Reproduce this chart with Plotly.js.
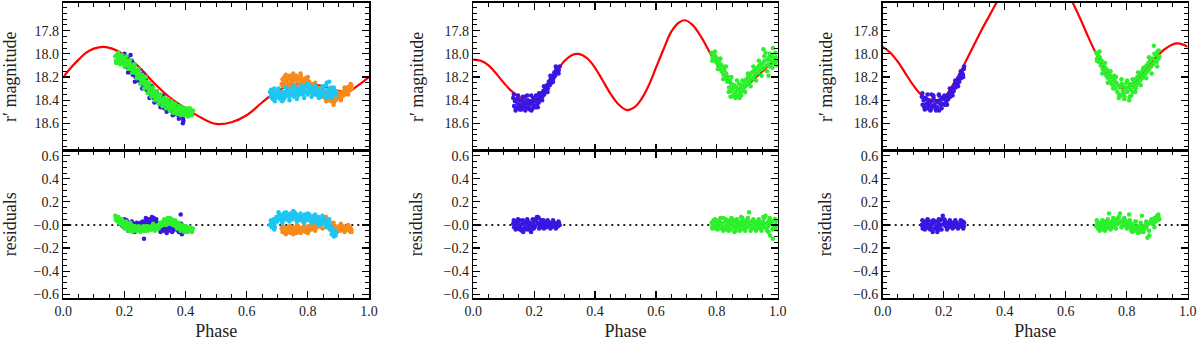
<!DOCTYPE html>
<html>
<head>
<meta charset="utf-8">
<script src="https://cdn.plot.ly/plotly-3.0.1.min.js"></script>
<style>html,body{margin:0;padding:0;background:#fff;}#chart{width:1200px;height:342px;}</style>
</head>
<body>
<div id="chart"></div>
<script>
// ---------------- tick labels ----------------
const phaseTicks = [0, 0.2, 0.4, 0.6, 0.8, 1.0];
const phaseTickText = ['0.0', '0.2', '0.4', '0.6', '0.8', '1.0'];
const magTicks = [17.8, 18.0, 18.2, 18.4, 18.6];
const magTickText = ['17.8', '18.0', '18.2', '18.4', '18.6'];
const resTicks = [-0.6, -0.4, -0.2, 0, 0.2, 0.4, 0.6];
const resTickText = ['\u22120.6', '\u22120.4', '\u22120.2', '\u22120.0', '0.2', '0.4', '0.6'];
const residualZero = 0;

// ---------------- model curves (phase, r' mag) ----------------
const modelLeftPhase = [0, 0.025, 0.05, 0.075, 0.1, 0.13, 0.16, 0.2, 0.25, 0.3, 0.35, 0.4, 0.45, 0.5, 0.55, 0.6, 0.65, 0.7, 0.75, 0.8, 0.85, 0.9, 0.93, 0.96, 1.0];
const modelLeftMag   = [18.20, 18.12, 18.05, 17.99, 17.955, 17.94, 17.955, 18.01, 18.12, 18.26, 18.38, 18.47, 18.55, 18.605, 18.59, 18.53, 18.42, 18.32, 18.27, 18.26, 18.28, 18.32, 18.33, 18.28, 18.20];

const modelMidPhase = [0, 0.025, 0.05, 0.075, 0.1, 0.125, 0.15, 0.175, 0.2, 0.225, 0.25, 0.275, 0.3, 0.325, 0.345, 0.375, 0.4, 0.425, 0.45, 0.475, 0.505, 0.53, 0.55, 0.575, 0.6, 0.625, 0.65, 0.675, 0.695, 0.72, 0.75, 0.775, 0.8, 0.825, 0.85, 0.87, 0.9, 0.925, 0.95, 0.975, 1.0];
const modelMidMag   = [18.05, 18.06, 18.10, 18.17, 18.25, 18.32, 18.37, 18.40, 18.40, 18.35, 18.26, 18.15, 18.06, 18.01, 18.00, 18.04, 18.12, 18.23, 18.34, 18.43, 18.485, 18.46, 18.40, 18.28, 18.12, 17.96, 17.81, 17.73, 17.71, 17.75, 17.86, 17.98, 18.09, 18.19, 18.27, 18.30, 18.27, 18.21, 18.15, 18.09, 18.05];

const modelRightPhase = [0, 0.025, 0.05, 0.075, 0.1, 0.125, 0.15, 0.175, 0.2, 0.225, 0.25, 0.275, 0.3, 0.325, 0.35, 0.375, 0.4, 0.45, 0.5, 0.55, 0.6, 0.625, 0.65, 0.675, 0.7, 0.725, 0.75, 0.775, 0.79, 0.8, 0.825, 0.85, 0.875, 0.9, 0.925, 0.95, 0.965, 0.985, 1.0];
const modelRightMag   = [17.94, 17.99, 18.07, 18.17, 18.27, 18.35, 18.39, 18.40, 18.38, 18.29, 18.18, 18.05, 17.92, 17.79, 17.67, 17.55, 17.45, 17.30, 17.25, 17.30, 17.45, 17.57, 17.71, 17.86, 18.00, 18.12, 18.21, 18.28, 18.30, 18.29, 18.25, 18.17, 18.09, 18.02, 17.96, 17.92, 17.91, 17.92, 17.94];

// ---------------- observations: [phase, r' mag, residual] ----------------
const leftBlue = [[0.190,18.04,0.02],[0.194,18.08,-0.01],[0.198,18.05,0.03],[0.203,18.11,-0.02],[0.207,18.03,0.04],[0.211,18.12,-0.03],[0.215,18.07,0.01],[0.219,18.15,-0.04],[0.223,18.10,0.00],[0.227,18.18,-0.05],[0.231,18.13,0.01],[0.236,18.20,-0.03],[0.240,18.16,0.02],[0.244,18.23,-0.04],[0.248,18.19,-0.01],[0.252,18.22,0.02],[0.256,18.26,-0.03],[0.260,18.21,0.03],[0.264,18.29,-0.12],[0.268,18.25,0.01],[0.272,18.31,0.04],[0.276,18.27,0.02],[0.280,18.33,0.05],[0.284,18.30,0.01],[0.288,18.36,0.04],[0.292,18.32,0.02],[0.296,18.38,0.06],[0.300,18.35,0.03],[0.304,18.40,0.05],[0.308,18.37,0.01],[0.312,18.41,-0.01],[0.316,18.38,-0.04],[0.320,18.43,0.00],[0.324,18.40,-0.03],[0.328,18.45,-0.05],[0.332,18.42,-0.01],[0.336,18.46,-0.04],[0.340,18.43,-0.02],[0.344,18.48,-0.05],[0.348,18.45,-0.01],[0.352,18.49,-0.03],[0.356,18.47,-0.06],[0.360,18.51,-0.02],[0.364,18.48,-0.04],[0.368,18.52,0.00],[0.372,18.49,-0.03],[0.376,18.53,-0.05],[0.380,18.50,-0.02],[0.384,18.54,0.09],[0.388,18.51,-0.08],[0.392,18.56,-0.03],[0.395,18.52,-0.04],[0.391,18.60,-0.01],[0.220,18.01,0.02],[0.260,18.17,-0.02],[0.330,18.47,0.03],
  [0.200,18.00,0.05],[0.212,18.16,-0.05],[0.224,18.06,0.03],[0.234,18.24,-0.06],[0.246,18.14,0.00],[0.258,18.30,0.01],[0.270,18.22,0.06],[0.282,18.38,0.03],[0.290,18.28,0.07],[0.298,18.42,0.04],[0.306,18.33,0.02],[0.318,18.46,-0.06],[0.326,18.36,-0.02],[0.338,18.50,-0.07],[0.346,18.41,-0.03],[0.358,18.53,-0.05],[0.366,18.44,0.02],[0.378,18.56,-0.06],[0.386,18.47,0.01],[0.393,18.58,-0.05]];

const leftGreen = [[0.170,18.02,0.08],[0.172,18.06,0.05],[0.175,18.01,0.07],[0.178,18.05,0.03],[0.181,18.03,0.06],[0.184,18.07,0.02],[0.187,18.02,0.05],[0.190,18.05,0.01],[0.193,18.08,0.04],[0.196,18.04,-0.01],[0.199,18.07,0.02],[0.202,18.05,-0.02],[0.205,18.09,0.01],[0.208,18.06,-0.03],[0.211,18.10,0.00],[0.214,18.08,-0.04],[0.217,18.12,-0.01],[0.220,18.09,-0.03],[0.223,18.13,0.00],[0.226,18.11,-0.05],[0.229,18.15,-0.02],[0.232,18.12,-0.04],[0.235,18.16,-0.01],[0.238,18.14,-0.05],[0.241,18.18,-0.02],[0.244,18.16,-0.04],[0.247,18.20,-0.01],[0.250,18.18,-0.03],[0.253,18.22,-0.05],[0.256,18.20,-0.02],[0.259,18.24,-0.04],[0.262,18.22,-0.01],[0.265,18.26,-0.03],[0.268,18.24,-0.05],[0.271,18.28,-0.02],[0.274,18.26,-0.04],[0.277,18.30,-0.01],[0.280,18.28,-0.03],[0.283,18.32,-0.02],[0.286,18.30,-0.04],[0.289,18.34,-0.01],[0.292,18.32,-0.03],[0.295,18.36,0.00],[0.298,18.34,-0.02],[0.301,18.37,-0.04],[0.304,18.35,-0.01],[0.307,18.39,-0.03],[0.310,18.37,0.00],[0.313,18.40,-0.02],[0.316,18.38,0.01],[0.319,18.41,-0.01],[0.322,18.39,0.02],[0.325,18.42,0.00],[0.328,18.40,0.03],[0.331,18.43,0.01],[0.334,18.41,0.04],[0.337,18.44,0.02],[0.340,18.42,0.05],[0.343,18.45,0.01],[0.346,18.43,0.03],[0.349,18.46,0.06],[0.352,18.44,0.02],[0.355,18.47,0.04],[0.358,18.45,0.00],[0.361,18.48,0.03],[0.364,18.46,0.01],[0.367,18.49,-0.01],[0.370,18.47,0.02],[0.373,18.50,-0.02],[0.376,18.47,0.01],[0.379,18.49,-0.03],[0.382,18.47,0.00],[0.385,18.50,-0.02],[0.388,18.48,-0.04],[0.391,18.51,-0.01],[0.394,18.48,-0.03],[0.397,18.50,-0.05],[0.400,18.48,-0.02],[0.403,18.51,-0.04],[0.406,18.49,-0.06],[0.409,18.52,-0.03],[0.412,18.48,-0.05],[0.415,18.50,-0.02],[0.418,18.49,-0.04],[0.421,18.51,-0.06],[0.424,18.49,-0.03],
  [0.173,18.08,0.04],[0.180,17.99,0.07],[0.186,18.09,0.01],[0.192,18.01,0.05],[0.200,18.11,-0.03],[0.206,18.02,0.03],[0.213,18.13,-0.05],[0.219,18.05,0.02],[0.226,18.16,-0.06],[0.233,18.09,-0.01],[0.240,18.21,-0.05],[0.246,18.13,-0.02],[0.252,18.26,-0.06],[0.258,18.18,-0.02],[0.264,18.30,-0.05],[0.270,18.20,-0.01],[0.276,18.34,-0.05],[0.282,18.25,-0.02],[0.288,18.37,-0.04],[0.294,18.29,0.01],[0.300,18.40,-0.05],[0.306,18.32,-0.01],[0.312,18.43,-0.03],[0.318,18.35,0.02],[0.324,18.45,0.01],[0.330,18.38,0.05],[0.336,18.47,0.00],[0.342,18.39,0.06],[0.348,18.49,0.01],[0.354,18.41,0.05],[0.360,18.51,0.02],[0.366,18.43,0.04],[0.372,18.52,-0.03],[0.378,18.45,0.02],[0.384,18.53,-0.05],[0.390,18.46,0.00],[0.396,18.53,-0.06],[0.402,18.47,-0.01],[0.408,18.54,-0.05],[0.414,18.47,-0.03],[0.420,18.53,-0.05]];

const leftOrange = [[0.714,18.26,-0.03],[0.717,18.22,-0.06],[0.720,18.25,-0.02],[0.723,18.20,-0.05],[0.726,18.27,-0.07],[0.729,18.23,-0.03],[0.732,18.21,-0.05],[0.735,18.26,-0.02],[0.738,18.22,-0.06],[0.741,18.19,-0.04],[0.744,18.25,-0.07],[0.747,18.21,-0.03],[0.750,18.24,-0.05],[0.753,18.20,-0.02],[0.756,18.27,-0.06],[0.759,18.22,-0.04],[0.762,18.19,-0.07],[0.765,18.24,-0.03],[0.768,18.21,-0.05],[0.771,18.26,-0.02],[0.774,18.22,-0.06],[0.777,18.19,-0.04],[0.780,18.25,-0.03],[0.783,18.22,-0.05],[0.786,18.27,-0.01],[0.789,18.23,-0.04],[0.792,18.21,-0.06],[0.795,18.26,-0.02],[0.798,18.23,-0.04],[0.801,18.28,-0.01],[0.804,18.24,-0.05],[0.807,18.27,-0.03],[0.810,18.30,-0.01],[0.813,18.26,-0.04],[0.816,18.29,-0.02],[0.819,18.32,0.00],[0.822,18.28,-0.03],[0.825,18.31,-0.01],[0.828,18.34,0.01],[0.831,18.29,-0.02],[0.834,18.33,0.00],[0.837,18.30,0.02],[0.840,18.35,-0.01],[0.843,18.31,0.01],[0.846,18.34,0.04],[0.849,18.37,0.02],[0.852,18.32,0.05],[0.855,18.36,0.03],[0.858,18.39,0.06],[0.861,18.34,0.02],[0.864,18.37,0.04],[0.867,18.40,0.00],[0.870,18.35,0.03],[0.873,18.38,-0.01],[0.876,18.41,0.01],[0.879,18.36,-0.02],[0.882,18.39,0.00],[0.885,18.42,-0.03],[0.888,18.37,-0.01],[0.891,18.40,-0.04],[0.894,18.36,-0.02],[0.897,18.38,-0.05],[0.900,18.34,-0.01],[0.903,18.37,-0.03],[0.906,18.35,-0.05],[0.909,18.38,-0.02],[0.912,18.33,-0.04],[0.915,18.36,-0.01],[0.918,18.32,-0.03],[0.921,18.35,-0.05],[0.924,18.31,-0.02],[0.927,18.34,-0.04],[0.930,18.29,-0.01],[0.933,18.32,-0.03],[0.936,18.28,-0.05],[0.939,18.31,-0.02],[0.942,18.27,-0.04],[0.943,18.30,-0.06],
  [0.718,18.28,-0.01],[0.728,18.18,-0.08],[0.740,18.28,-0.01],[0.752,18.17,-0.08],[0.764,18.29,0.00],[0.776,18.17,-0.07],[0.788,18.29,-0.02],[0.800,18.20,-0.07],[0.812,18.33,0.02],[0.824,18.25,-0.05],[0.836,18.36,0.04],[0.848,18.29,-0.03],[0.860,18.41,0.07],[0.872,18.32,-0.04],[0.884,18.44,0.02],[0.896,18.33,-0.06],[0.908,18.40,0.01],[0.920,18.29,-0.06],[0.932,18.35,0.00],[0.940,18.26,-0.06]];

const leftCyan = [[0.676,18.33,0.00],[0.679,18.37,0.04],[0.682,18.35,-0.02],[0.685,18.39,0.02],[0.688,18.33,0.05],[0.691,18.36,0.01],[0.694,18.38,0.04],[0.697,18.34,0.07],[0.700,18.37,0.03],[0.703,18.32,0.06],[0.706,18.36,0.09],[0.709,18.39,0.05],[0.712,18.34,0.08],[0.715,18.37,0.04],[0.718,18.33,0.07],[0.721,18.36,0.10],[0.724,18.38,0.06],[0.727,18.33,0.09],[0.730,18.36,0.05],[0.733,18.31,0.08],[0.736,18.35,0.04],[0.739,18.37,0.07],[0.742,18.32,0.10],[0.745,18.35,0.06],[0.748,18.30,0.09],[0.751,18.34,0.05],[0.754,18.37,0.08],[0.757,18.32,0.11],[0.760,18.35,0.06],[0.763,18.30,0.09],[0.766,18.33,0.05],[0.769,18.36,0.07],[0.772,18.31,0.04],[0.775,18.34,0.08],[0.778,18.29,0.05],[0.781,18.33,0.07],[0.784,18.35,0.03],[0.787,18.30,0.06],[0.790,18.33,0.09],[0.793,18.28,0.05],[0.796,18.32,0.08],[0.799,18.35,0.04],[0.802,18.30,0.06],[0.805,18.33,0.09],[0.808,18.28,0.05],[0.811,18.31,0.07],[0.814,18.34,0.03],[0.817,18.29,0.06],[0.820,18.32,0.08],[0.823,18.35,0.04],[0.826,18.30,0.06],[0.829,18.33,0.02],[0.832,18.36,0.05],[0.835,18.31,0.07],[0.838,18.34,0.03],[0.841,18.37,0.05],[0.844,18.32,0.01],[0.847,18.35,0.04],[0.850,18.30,0.06],[0.853,18.33,0.02],[0.856,18.36,0.04],[0.859,18.27,0.00],[0.862,18.25,0.03],[0.865,18.31,-0.01],[0.868,18.34,0.02],[0.871,18.37,-0.03],[0.874,18.29,-0.01],[0.877,18.33,-0.05],[0.880,18.35,-0.03],[0.883,18.31,-0.07],[0.887,18.34,-0.05],[0.891,18.32,-0.09],[0.718,18.40,0.03],[0.690,18.30,-0.04],
  [0.680,18.31,0.03],[0.692,18.41,-0.02],[0.704,18.30,0.11],[0.716,18.41,0.02],[0.728,18.29,0.11],[0.740,18.40,0.03],[0.752,18.28,0.12],[0.764,18.39,0.03],[0.776,18.27,0.10],[0.788,18.38,0.02],[0.800,18.26,0.10],[0.812,18.37,0.02],[0.824,18.27,0.09],[0.836,18.38,0.00],[0.848,18.28,0.08],[0.860,18.38,-0.02],[0.870,18.24,0.05],[0.878,18.38,-0.08],[0.885,18.29,-0.10],[0.893,18.36,-0.06]];

const midBlue = [[0.131,18.38,0.01],[0.134,18.45,-0.02],[0.137,18.41,0.03],[0.140,18.47,0.00],[0.143,18.39,-0.03],[0.146,18.43,0.02],[0.149,18.46,-0.01],[0.152,18.40,0.04],[0.155,18.44,0.00],[0.158,18.48,-0.03],[0.161,18.41,0.01],[0.164,18.45,-0.06],[0.167,18.42,0.02],[0.170,18.37,-0.02],[0.173,18.46,0.01],[0.176,18.43,-0.04],[0.179,18.40,0.03],[0.182,18.47,-0.01],[0.185,18.44,0.02],[0.188,18.41,-0.05],[0.191,18.49,0.00],[0.194,18.43,-0.03],[0.197,18.38,0.02],[0.200,18.45,0.04],[0.203,18.41,-0.01],[0.206,18.36,0.03],[0.209,18.44,0.07],[0.212,18.39,0.01],[0.215,18.42,0.06],[0.218,18.36,0.00],[0.221,18.39,0.03],[0.224,18.34,-0.02],[0.227,18.37,0.01],[0.230,18.32,0.04],[0.233,18.35,-0.01],[0.236,18.30,0.02],[0.239,18.32,-0.02],[0.242,18.27,0.01],[0.245,18.30,0.03],[0.248,18.24,-0.01],[0.251,18.27,0.02],[0.254,18.22,0.00],[0.257,18.25,-0.02],[0.260,18.19,0.01],[0.263,18.21,-0.01],[0.266,18.16,0.02],[0.269,18.19,0.00],[0.272,18.14,-0.02],[0.275,18.16,0.01],[0.278,18.12,-0.01],[0.281,18.14,0.02],[0.284,18.11,0.00],[0.160,18.46,-0.05],[0.190,18.36,-0.06],[0.212,18.46,0.07],
  [0.133,18.35,0.04],[0.139,18.49,-0.04],[0.147,18.36,0.05],[0.153,18.48,-0.04],[0.163,18.37,0.04],[0.171,18.49,-0.03],[0.177,18.36,0.05],[0.186,18.48,-0.04],[0.195,18.47,0.05],[0.199,18.39,-0.03],[0.205,18.46,0.05],[0.216,18.34,-0.03],[0.226,18.40,0.04],[0.232,18.28,-0.03],[0.244,18.33,0.04],[0.253,18.19,-0.03],[0.262,18.24,0.04],[0.271,18.11,-0.03],[0.280,18.17,0.03]];

const midGreen = [[0.783,17.99,0.02],[0.786,18.03,-0.01],[0.789,18.00,0.04],[0.792,18.05,0.00],[0.795,18.02,-0.03],[0.798,18.07,0.02],[0.801,18.04,-0.02],[0.804,18.09,0.01],[0.807,18.06,0.04],[0.810,18.12,-0.01],[0.813,18.09,0.02],[0.816,18.15,-0.03],[0.819,18.11,0.01],[0.822,18.18,0.06],[0.825,18.14,-0.02],[0.828,18.21,0.03],[0.831,18.17,-0.04],[0.834,18.24,0.00],[0.837,18.20,0.03],[0.840,18.29,-0.02],[0.843,18.23,0.01],[0.846,18.32,-0.04],[0.849,18.26,0.02],[0.852,18.30,0.05],[0.855,18.35,-0.01],[0.858,18.27,0.03],[0.861,18.33,-0.03],[0.864,18.29,0.01],[0.867,18.36,0.04],[0.870,18.31,-0.02],[0.873,18.26,0.02],[0.876,18.34,0.00],[0.879,18.29,-0.04],[0.882,18.32,0.03],[0.885,18.27,-0.01],[0.888,18.30,0.02],[0.891,18.24,-0.03],[0.894,18.28,0.01],[0.897,18.22,0.04],[0.900,18.26,-0.02],[0.903,18.20,0.02],[0.906,18.24,0.11],[0.909,18.18,-0.01],[0.912,18.22,0.03],[0.915,18.16,-0.03],[0.918,18.21,0.01],[0.921,18.15,-0.02],[0.924,18.19,0.02],[0.927,18.13,-0.04],[0.930,18.17,0.00],[0.933,18.12,0.03],[0.936,18.16,-0.02],[0.939,18.10,0.01],[0.942,18.14,-0.03],[0.945,18.09,0.02],[0.948,18.13,-0.01],[0.951,18.08,0.03],[0.954,18.12,-0.02],[0.957,18.06,0.01],[0.960,17.99,0.08],[0.963,18.10,-0.03],[0.966,18.05,0.02],[0.969,18.09,-0.01],[0.972,18.03,0.04],[0.975,18.11,-0.09],[0.978,18.06,0.01],[0.981,18.02,0.03],[0.984,17.95,-0.12],[0.987,18.08,-0.02],[0.990,18.04,0.05],[0.993,18.07,0.00],[0.996,18.03,0.03],[0.999,18.06,-0.01],[0.845,18.37,0.05],[0.862,18.38,-0.05],[0.880,18.36,0.07],[0.970,18.19,-0.06],
  [0.785,18.06,-0.03],[0.794,17.98,0.05],[0.803,18.13,-0.04],[0.812,18.04,0.06],[0.821,18.22,-0.05],[0.830,18.11,0.05],[0.839,18.33,-0.05],[0.848,18.20,0.06],[0.857,18.37,-0.06],[0.866,18.23,0.05],[0.875,18.38,-0.05],[0.884,18.23,0.06],[0.893,18.33,-0.05],[0.902,18.17,0.06],[0.911,18.28,-0.05],[0.920,18.11,0.05],[0.929,18.23,-0.05],[0.938,18.06,0.05],[0.947,18.19,-0.05],[0.956,18.02,0.06],[0.965,18.15,-0.05],[0.974,18.00,0.06],[0.983,18.12,-0.04],[0.992,17.99,0.05],[0.998,18.10,-0.04],[0.953,17.96,0.07]];

const rightBlue = [[0.128,18.37,0.00],[0.131,18.44,-0.03],[0.134,18.40,0.02],[0.137,18.46,-0.01],[0.140,18.38,0.03],[0.143,18.43,-0.02],[0.146,18.47,0.01],[0.149,18.40,0.04],[0.152,18.45,-0.03],[0.155,18.42,0.00],[0.158,18.48,-0.02],[0.161,18.41,0.02],[0.164,18.45,-0.06],[0.167,18.38,0.01],[0.170,18.44,-0.03],[0.173,18.47,0.03],[0.176,18.41,-0.01],[0.179,18.46,-0.06],[0.182,18.42,0.02],[0.185,18.49,-0.02],[0.188,18.40,0.04],[0.191,18.44,0.00],[0.194,18.38,0.05],[0.197,18.43,0.08],[0.200,18.39,0.01],[0.203,18.44,0.04],[0.206,18.37,-0.01],[0.209,18.41,0.02],[0.212,18.36,0.00],[0.215,18.39,-0.02],[0.218,18.34,0.01],[0.221,18.37,0.03],[0.224,18.31,-0.01],[0.227,18.34,0.02],[0.230,18.29,0.00],[0.233,18.32,-0.02],[0.236,18.26,0.01],[0.239,18.29,-0.01],[0.242,18.24,0.02],[0.245,18.26,0.00],[0.248,18.21,-0.02],[0.251,18.24,0.01],[0.254,18.18,-0.01],[0.257,18.21,0.02],[0.260,18.16,0.00],[0.263,18.18,0.03],[0.266,18.13,-0.01],[0.267,18.11,0.02],[0.160,18.35,0.03],[0.185,18.36,-0.04],
  [0.130,18.34,0.04],[0.138,18.48,-0.04],[0.147,18.35,0.05],[0.156,18.49,-0.04],[0.166,18.36,0.04],[0.175,18.49,-0.03],[0.184,18.35,0.05],[0.193,18.47,-0.04],[0.202,18.36,0.05],[0.211,18.44,-0.04],[0.220,18.30,0.04],[0.229,18.36,-0.03],[0.238,18.23,0.04],[0.247,18.28,-0.03],[0.256,18.15,0.04],[0.264,18.20,-0.03]];

const rightGreen = [[0.700,17.99,-0.01],[0.703,18.04,0.02],[0.706,18.01,-0.03],[0.709,18.07,0.01],[0.712,18.03,-0.02],[0.715,18.10,0.02],[0.718,18.06,-0.04],[0.721,18.13,0.00],[0.724,18.09,-0.02],[0.727,18.16,0.03],[0.730,18.12,-0.01],[0.733,18.19,-0.03],[0.736,18.14,0.02],[0.739,18.21,-0.02],[0.742,18.17,0.10],[0.745,18.24,0.01],[0.748,18.19,-0.03],[0.751,18.26,0.03],[0.754,18.21,-0.01],[0.757,18.28,0.02],[0.760,18.23,0.05],[0.763,18.30,0.00],[0.766,18.25,0.04],[0.769,18.33,0.01],[0.772,18.27,0.06],[0.775,18.35,0.02],[0.778,18.29,0.10],[0.781,18.36,0.03],[0.784,18.26,-0.01],[0.787,18.32,0.04],[0.790,18.28,0.01],[0.793,18.37,0.05],[0.796,18.30,0.02],[0.799,18.25,-0.01],[0.802,18.33,0.03],[0.805,18.29,0.00],[0.808,18.40,0.09],[0.811,18.26,-0.02],[0.814,18.31,0.01],[0.817,18.27,-0.03],[0.820,18.33,0.00],[0.823,18.25,-0.04],[0.826,18.29,-0.01],[0.829,18.22,-0.05],[0.832,18.27,-0.02],[0.835,18.20,-0.04],[0.838,18.25,-0.01],[0.841,18.18,-0.03],[0.844,18.23,-0.06],[0.847,18.16,-0.02],[0.850,18.21,0.08],[0.853,18.14,-0.04],[0.856,18.19,-0.01],[0.859,18.12,-0.03],[0.862,18.17,0.00],[0.865,18.10,-0.02],[0.868,18.15,-0.11],[0.871,18.08,0.01],[0.874,18.13,-0.09],[0.877,18.06,0.02],[0.880,18.11,0.04],[0.883,18.04,0.01],[0.886,18.09,0.05],[0.889,17.93,0.02],[0.892,18.06,0.06],[0.895,18.01,0.03],[0.898,18.07,0.07],[0.901,17.98,0.04],[0.904,18.04,0.09],[0.907,18.02,0.05],[0.760,18.19,-0.02],[0.790,18.34,0.04],[0.815,18.36,-0.05],[0.830,18.30,0.03],
  [0.702,18.06,0.04],[0.711,17.98,-0.05],[0.720,18.17,0.04],[0.729,18.08,-0.05],[0.738,18.25,0.05],[0.747,18.15,-0.04],[0.756,18.30,0.06],[0.765,18.20,-0.03],[0.774,18.38,0.07],[0.783,18.22,-0.02],[0.792,18.39,0.06],[0.801,18.23,-0.03],[0.810,18.37,0.04],[0.819,18.22,-0.06],[0.828,18.33,0.03],[0.837,18.16,-0.07],[0.846,18.27,0.02],[0.855,18.12,-0.06],[0.864,18.21,0.03],[0.873,18.03,-0.05],[0.882,18.17,0.05],[0.891,18.00,-0.02],[0.900,18.11,0.08],[0.905,17.97,0.06]];

// ---------------- styling ----------------
const COL = {blue:'#3a16e2', green:'#2cf02c', cyan:'#1ec6f2', orange:'#f68a1c', red:'#ff0000'};
const FONT = 'Liberation Serif, Times New Roman, serif';
const W = 1200, H = 342;
const panelX = [[63.3, 369.0], [473.3, 777.7], [882.7, 1187.7]];
const topY = [3, 150.7], botY = [150.7, 298];
const magRange = [18.836, 17.561];
const resRange = [-0.632, 0.643];

const panels = [
  {mp: modelLeftPhase, mm: modelLeftMag, clouds: [[leftBlue, COL.blue], [leftGreen, COL.green], [leftOrange, COL.orange], [leftCyan, COL.cyan]]},
  {mp: modelMidPhase, mm: modelMidMag, clouds: [[midBlue, COL.blue], [midGreen, COL.green]]},
  {mp: modelRightPhase, mm: modelRightMag, clouds: [[rightBlue, COL.blue], [rightGreen, COL.green]]}
];

function axisBase(extra) {
  return Object.assign({
    showline: true, linecolor: '#000', linewidth: 1.6, mirror: 'ticks',
    ticks: 'inside', ticklen: 7, tickwidth: 1.2, tickcolor: '#000',
    showgrid: false, zeroline: false, fixedrange: true,
    tickfont: {family: FONT, size: 14, color: '#222'},
    minor: {tickmode: 'linear', tick0: 0, dtick: 0.05, ticks: 'inside', ticklen: 4, tickwidth: 1, tickcolor: '#000'}
  }, extra);
}

const traces = [];
const layout = {
  width: W, height: H, margin: {l: 0, r: 0, t: 0, b: 0},
  paper_bgcolor: '#fff', plot_bgcolor: '#fff', showlegend: false, shapes: []
};

panels.forEach((p, i) => {
  const nTop = 2 * i + 1, nBot = 2 * i + 2;
  const xT = 'x' + nTop, yT = 'y' + nTop, xB = 'x' + nBot, yB = 'y' + nBot;
  const xdom = [panelX[i][0] / W, panelX[i][1] / W];
  const ydomTop = [1 - topY[1] / H, 1 - topY[0] / H];
  const ydomBot = [1 - botY[1] / H, 1 - botY[0] / H];
  const axName = n => (n === 1 ? '' : String(n));

  layout['xaxis' + axName(nTop)] = axisBase({domain: xdom, anchor: yT, range: [0, 1], tickmode: 'array', tickvals: phaseTicks, ticktext: phaseTickText, showticklabels: false});
  layout['yaxis' + axName(nTop)] = axisBase({domain: ydomTop, anchor: xT, range: magRange, tickmode: 'array', tickvals: magTicks, ticktext: magTickText,
    title: {text: 'r\u2032 magnitude', font: {family: FONT, size: 18, color: '#222'}, standoff: 16}});
  layout['xaxis' + axName(nBot)] = axisBase({domain: xdom, anchor: yB, range: [0, 1], tickmode: 'array', tickvals: phaseTicks, ticktext: phaseTickText,
    title: {text: 'Phase', font: {family: FONT, size: 18, color: '#222'}, standoff: 6}});
  layout['yaxis' + axName(nBot)] = axisBase({domain: ydomBot, anchor: xB, range: resRange, tickmode: 'array', tickvals: resTicks, ticktext: resTickText,
    title: {text: 'residuals', font: {family: FONT, size: 18, color: '#222'}, standoff: 16}});

  traces.push({type: 'scatter', mode: 'lines', x: p.mp, y: p.mm, xaxis: xT, yaxis: yT, cliponaxis: true,
    line: {color: COL.red, width: 2.2, shape: 'spline', smoothing: 1}, hoverinfo: 'skip'});

  layout.shapes.push({type: 'line', xref: xB + ' domain', yref: yB, x0: 0, x1: 1, y0: residualZero, y1: residualZero,
    line: {color: '#222', width: 1.8, dash: '2px,4px'}, layer: 'below'});

  p.clouds.forEach(([rows, col]) => {
    const ph = rows.map(r => r[0]), mg = rows.map(r => r[1]), rs = rows.map(r => r[2]);
    traces.push({type: 'scatter', mode: 'markers', x: ph, y: mg, xaxis: xT, yaxis: yT,
      marker: {color: col, size: 4.5, line: {width: 0}}, hoverinfo: 'skip'});
    traces.push({type: 'scatter', mode: 'markers', x: ph, y: rs, xaxis: xB, yaxis: yB,
      marker: {color: col, size: 4.5, line: {width: 0}}, hoverinfo: 'skip'});
  });
});

Plotly.newPlot('chart', traces, layout, {staticPlot: true, displayModeBar: false});
</script>
</body>
</html>
